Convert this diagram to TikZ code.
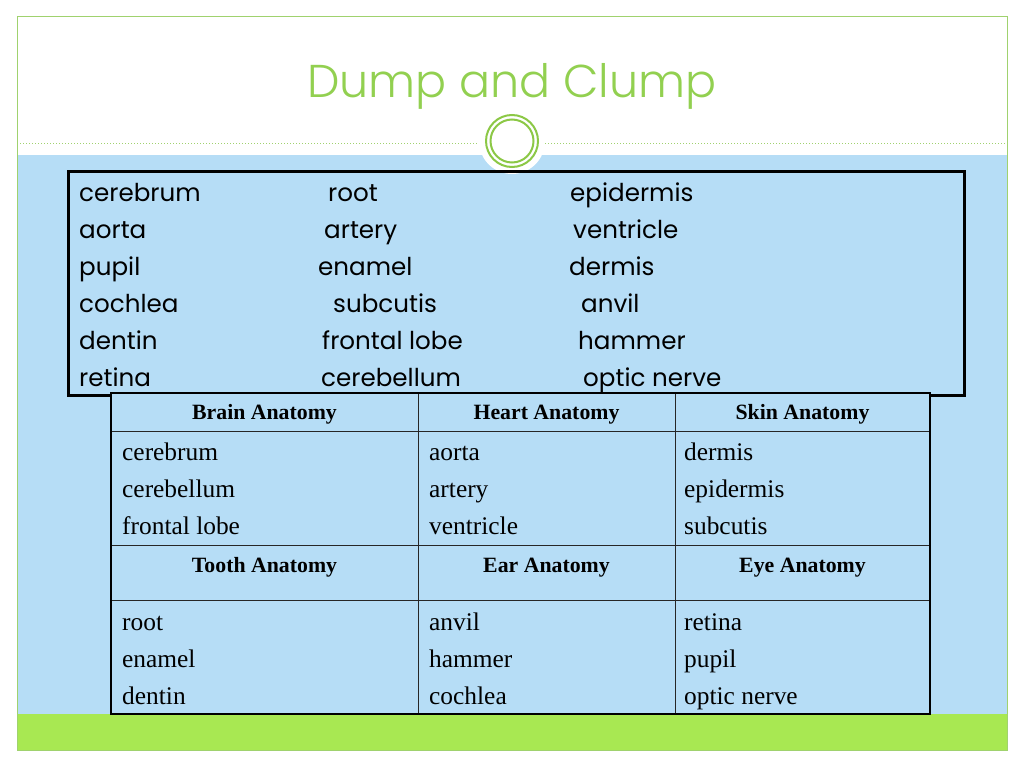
\documentclass[tikz,border=0pt]{standalone}
\usepackage{fontspec}
\setmainfont{Liberation Serif}
\newfontfamily\gothic{Poppins}
\newfontfamily\titlefont{Poppins Light}
\definecolor{skyblue}{RGB}{182,221,246}
\definecolor{limeband}{RGB}{168,232,82}
\definecolor{framegreen}{RGB}{160,210,110}
\definecolor{titlegreen}{RGB}{146,208,80}
\definecolor{ringgreen}{RGB}{140,200,70}
\begin{document}
\begin{tikzpicture}[x=1pt,y=-1pt,
  word/.style={inner sep=0pt,anchor=base west,font=\gothic\fontsize{24.6}{30}\selectfont},
  cell/.style={inner sep=0pt,anchor=base west,font=\fontsize{25.4}{30}\selectfont},
  head/.style={inner sep=0pt,anchor=base,font=\bfseries\fontsize{21.8}{25}\selectfont},
  thin/.style={line width=1pt,black!85},
  thick/.style={line width=2.5pt,black}]
\useasboundingbox (0,0) rectangle (1024,768);
\fill[white] (0,0) rectangle (1024,768);
\fill[skyblue] (17,155) rectangle (1007,714);
\fill[limeband] (17,714) rectangle (1007,750);
\draw[framegreen,line width=1pt] (17,17) rectangle (1007,750);
\draw[framegreen,dotted,line width=1pt] (17,143) -- (1007,143);
\fill[white] (512,141) circle (33pt);
\draw[ringgreen,line width=2pt] (512,141) circle (26pt) (512,141) circle (21.5pt);
\node[inner sep=0pt,anchor=base,text=titlegreen,font=\titlefont\fontsize{46}{50}\selectfont] (title) at (512,97) {Dump and Clump};
% word box
\draw[line width=3pt,black] (68,171) rectangle (964,395);
\node[word] (w11) at (79,201) {cerebrum};
\node[word] (w21) at (79,238) {aorta};
\node[word] (w31) at (79,275) {pupil};
\node[word] (w41) at (79,312) {cochlea};
\node[word] (w51) at (79,349) {dentin};
\node[word] (w61) at (79,386) {retina};
\node[word] (w12) at (328,201) {root};
\node[word] (w22) at (324,238) {artery};
\node[word] (w32) at (318,275) {enamel};
\node[word] (w42) at (333,312) {subcutis};
\node[word] (w52) at (322,349) {frontal lobe};
\node[word] (w62) at (321,386) {cerebellum};
\node[word] (w13) at (570,201) {epidermis};
\node[word] (w23) at (573,238) {ventricle};
\node[word] (w33) at (569,275) {dermis};
\node[word] (w43) at (581,312) {anvil};
\node[word] (w53) at (578,349) {hammer};
\node[word] (w63) at (583,386) {optic nerve};
% table
\fill[skyblue] (111,393) rectangle (930,714);
\draw[thin] (418,393) -- (418,714) (675,393) -- (675,714);
\draw[thin] (111,431) -- (930,431) (111,545) -- (930,545) (111,600) -- (930,600);
\draw[thick] (111,393) rectangle (930,714);
\node[head] (h1) at (264.5,419) {Brain Anatomy};
\node[head] (h2) at (546.5,419) {Heart Anatomy};
\node[head] (h3) at (802.5,419) {Skin Anatomy};
\node[head] (h4) at (264.5,572) {Tooth Anatomy};
\node[head] (h5) at (546.5,572) {Ear Anatomy};
\node[head] (h6) at (802.5,572) {Eye Anatomy};
\node[cell] (a1) at (122,460) {cerebrum};
\node[cell] (a2) at (122,497) {cerebellum};
\node[cell] (a3) at (122,534) {frontal lobe};
\node[cell] (b1) at (429,460) {aorta};
\node[cell] (b2) at (429,497) {artery};
\node[cell] (b3) at (429,534) {ventricle};
\node[cell] (c1) at (684,460) {dermis};
\node[cell] (c2) at (684,497) {epidermis};
\node[cell] (c3) at (684,534) {subcutis};
\node[cell] (d1) at (122,630) {root};
\node[cell] (d2) at (122,667) {enamel};
\node[cell] (d3) at (122,704) {dentin};
\node[cell] (e1) at (429,630) {anvil};
\node[cell] (e2) at (429,667) {hammer};
\node[cell] (e3) at (429,704) {cochlea};
\node[cell] (f1) at (684,630) {retina};
\node[cell] (f2) at (684,667) {pupil};
\node[cell] (f3) at (684,704) {optic nerve};
\end{tikzpicture}
\end{document}
